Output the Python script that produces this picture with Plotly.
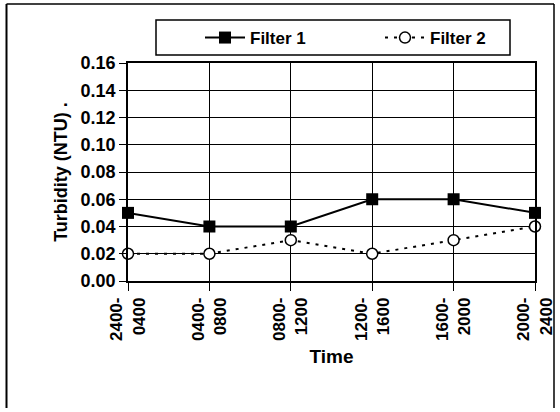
import plotly.graph_objects as go

categories = ["2400-<br>0400", "0400-<br>0800", "0800-<br>1200", "1200-<br>1600", "1600-<br>2000", "2000-<br>2400"]
filter1 = [0.05, 0.04, 0.04, 0.06, 0.06, 0.05]
filter2 = [0.02, 0.02, 0.03, 0.02, 0.03, 0.04]
y_ticks = [0.00, 0.02, 0.04, 0.06, 0.08, 0.10, 0.12, 0.14, 0.16]
y_ticktext = ["%.2f" % v for v in y_ticks]

FONT = "Liberation Sans, Arial, sans-serif"
xi = list(range(len(categories)))

fig = go.Figure()
fig.add_trace(go.Scatter(
    x=xi, y=filter1, name="Filter 1", mode="lines+markers",
    line=dict(color="black", width=2),
    marker=dict(symbol="square", size=12, color="black"),
    cliponaxis=False,
))
fig.add_trace(go.Scatter(
    x=xi, y=filter2, name="Filter 2", mode="lines+markers",
    line=dict(color="black", width=2, dash="3px,6px"),
    marker=dict(symbol="circle", size=11, color="white", line=dict(color="black", width=1.5)),
    cliponaxis=False,
))

L, R, T, B = 128, 25, 63, 131
W, H = 560, 412

def cx(x):
    return x / W

def cy(y):
    return 1 - y / H

fig.update_layout(
    width=W, height=H,
    margin=dict(l=L, r=R, t=T, b=B, autoexpand=False),
    paper_bgcolor="white", plot_bgcolor="white",
    font=dict(family=FONT, size=17, color="black", weight="bold"),
    showlegend=True,
    legend=dict(
        orientation="h", xref="container", yref="container",
        x=cx(200), y=cy(38), xanchor="left", yanchor="middle",
        borderwidth=0, bgcolor="rgba(0,0,0,0)",
        font=dict(family=FONT, size=17, color="black", weight="bold"),
        entrywidth=125, itemwidth=40,
    ),
    xaxis=dict(
        range=[0, len(categories) - 1], automargin=False,
        tickmode="array", tickvals=xi, ticktext=categories,
        tickangle=-90, ticks="outside", ticklen=8, tickcolor="black",
        showgrid=True, gridcolor="black", gridwidth=1,
        showline=True, linecolor="black", linewidth=1.5, mirror=True,
        zeroline=False,
        title=dict(text="Time", font=dict(family=FONT, size=19, weight="bold"), standoff=10),
        tickfont=dict(family=FONT, size=17, weight="bold"),
    ),
    yaxis=dict(
        range=[0, 0.16], automargin=False,
        tickmode="array", tickvals=y_ticks, ticktext=y_ticktext,
        ticks="outside", ticklen=7, tickcolor="black",
        showgrid=True, gridcolor="black", gridwidth=1,
        showline=True, linecolor="black", linewidth=1.5, mirror=True,
        zeroline=False,
        title=dict(text="Turbidity (NTU) .", font=dict(family=FONT, size=18, weight="bold"), standoff=8),
        tickfont=dict(family=FONT, size=18, weight="bold"),
    ),
)

def px(x):
    return (x - L) / (W - L - R)

def py(y):
    return (H - B - y) / (H - T - B)

# legend frame
fig.add_shape(type="rect", xref="paper", yref="paper",
              x0=px(156), x1=px(510), y0=py(55), y1=py(20),
              line=dict(color="black", width=1.5), layer="below")

# outer chart frame (left, top, right edges)
fig.add_shape(type="line", xref="paper", yref="paper",
              x0=px(6.5), x1=px(6.5), y0=py(408), y1=py(4), line=dict(color="black", width=2))
fig.add_shape(type="line", xref="paper", yref="paper",
              x0=px(6.5), x1=px(554), y0=py(4), y1=py(4), line=dict(color="black", width=1.5))
fig.add_shape(type="line", xref="paper", yref="paper",
              x0=px(554), x1=px(554), y0=py(4), y1=py(408), line=dict(color="black", width=1.5))

fig.write_html("out.html", config={"displayModeBar": False},
               post_script="document.body.style.margin='0';document.body.style.padding='0';")
